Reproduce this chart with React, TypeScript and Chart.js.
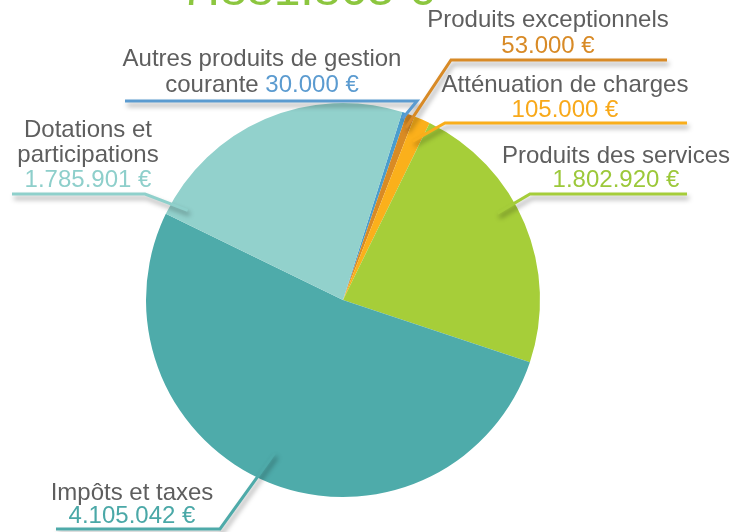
import React, { useEffect, useRef } from "react";
import { Chart, registerables } from "chart.js";

Chart.register(...registerables);

const categories = [
  "Autres produits de gestion courante",
  "Produits exceptionnels",
  "Atténuation de charges",
  "Produits des services",
  "Impôts et taxes",
  "Dotations et participations",
];
const values = [30000, 53000, 105000, 1802920, 4105042, 1785901];
const valueLabels = ["30.000 €", "53.000 €", "105.000 €", "1.802.920 €", "4.105.042 €", "1.785.901 €"];
const nameLines = [
  ["Autres produits de gestion", "courante"],
  ["Produits exceptionnels"],
  ["Atténuation de charges"],
  ["Produits des services"],
  ["Impôts et taxes"],
  ["Dotations et", "participations"],
];
const titleText = "7.881.863 €";

const sliceColors = ["#4a9dcd", "#d98b24", "#fbb01b", "#a6ce39", "#4eabaa", "#92d1cc"];
const valueColors = ["#5b9bd0", "#d88a26", "#f8a91a", "#9cc83a", "#4aa8a7", "#8ecfcb"];
const lineColors = ["#5b9bd0", "#d88a26", "#f9ae1b", "#a5cd3a", "#4eaaa9", "#8fd0cb"];

// label layout (positions in px) for each category, same order
const labelLayout = [
  { cx: 262, y0: 66, lh: 26, inline: true, lineY: 101, elbowX: 417, farX: 125, frac: 0.5, rFrac: 0.97 },
  { cx: 548, y0: 27, lh: 26, inline: false, lineY: 60, elbowX: 451, farX: 667, frac: 0.5, rFrac: 0.93 },
  { cx: 565, y0: 92, lh: 25, inline: false, lineY: 123, elbowX: 445, farX: 687, frac: 0.5, rFrac: 0.88 },
  { cx: 616, y0: 163, lh: 24, inline: false, lineY: 194, elbowX: 530, farX: 687, frac: 0.42, rFrac: 0.9 },
  { cx: 132, y0: 500, lh: 23, inline: false, lineY: 529, elbowX: 220, farX: 56, frac: 0.51, rFrac: 0.85 },
  { cx: 88, y0: 137, lh: 25, inline: false, lineY: 194, elbowX: 145, farX: 12, frac: 0.05, rFrac: 0.91 },
];

const FONT = "24px 'Liberation Sans', Arial, sans-serif";
const GRAY = "#5e5e5e";

const labelPlugin = {
  id: "leaderLabels",
  afterDraw(chart: any) {
    const ctx = chart.ctx as CanvasRenderingContext2D;
    // title (partially above the visible area)
    ctx.save();
    ctx.font = "48px 'Liberation Sans', Arial, sans-serif";
    ctx.fillStyle = "#8cc63f";
    ctx.textAlign = "center";
    ctx.textBaseline = "alphabetic";
    ctx.fillText(titleText, 307, 5);
    ctx.restore();

    const meta = chart.getDatasetMeta(0);
    meta.data.forEach((arc: any, i: number) => {
      const L = labelLayout[i];
      const p = arc.getProps(["x", "y", "startAngle", "endAngle", "outerRadius"], true);
      const a = p.startAngle + (p.endAngle - p.startAngle) * L.frac;
      const r = p.outerRadius * L.rFrac;
      const px = p.x + Math.cos(a) * r;
      const py = p.y + Math.sin(a) * r;

      ctx.save();
      ctx.shadowColor = "rgba(0,0,0,0.35)";
      ctx.shadowBlur = 5;
      ctx.shadowOffsetX = 2;
      ctx.shadowOffsetY = 4;
      ctx.strokeStyle = lineColors[i];
      ctx.lineWidth = 3;
      ctx.lineJoin = "miter";
      ctx.beginPath();
      ctx.moveTo(L.farX, L.lineY);
      ctx.lineTo(L.elbowX, L.lineY);
      ctx.lineTo(px, py);
      ctx.stroke();
      ctx.restore();

      ctx.save();
      ctx.font = FONT;
      ctx.textBaseline = "alphabetic";
      ctx.textAlign = "left";
      const lines = nameLines[i];
      let y = L.y0;
      lines.forEach((ln, k) => {
        const isLast = k === lines.length - 1;
        if (isLast && L.inline) {
          const t1 = ln + " ";
          const w1 = ctx.measureText(t1).width;
          const w2 = ctx.measureText(valueLabels[i]).width;
          const x0 = L.cx - (w1 + w2) / 2;
          ctx.fillStyle = GRAY;
          ctx.fillText(t1, x0, y);
          ctx.fillStyle = valueColors[i];
          ctx.fillText(valueLabels[i], x0 + w1, y);
        } else {
          const w = ctx.measureText(ln).width;
          ctx.fillStyle = GRAY;
          ctx.fillText(ln, L.cx - w / 2, y);
        }
        y += L.lh;
      });
      if (!L.inline) {
        const w = ctx.measureText(valueLabels[i]).width;
        ctx.fillStyle = valueColors[i];
        ctx.fillText(valueLabels[i], L.cx - w / 2, y);
      }
      ctx.restore();
    });
  },
};

export default function App() {
  const ref = useRef<HTMLCanvasElement | null>(null);
  useEffect(() => {
    if (!ref.current) return;
    const chart = new Chart(ref.current, {
      type: "pie",
      data: {
        labels: categories,
        datasets: [
          {
            data: values,
            backgroundColor: sliceColors,
            borderWidth: 0,
          },
        ],
      },
      options: {
        responsive: false,
        animation: false,
        rotation: 17.5,
        layout: { padding: { left: 146, right: 206, top: 103, bottom: 35 } },
        plugins: {
          legend: { display: false },
          tooltip: { enabled: false },
          title: { display: false },
        },
      },
      plugins: [labelPlugin],
    });
    return () => chart.destroy();
  }, []);
  return (
    <div style={{ position: "fixed", left: 0, top: 0, width: 746, height: 532, background: "#fff" }}>
      <canvas ref={ref} width={746} height={532} style={{ width: 746, height: 532, display: "block" }} />
    </div>
  );
}
